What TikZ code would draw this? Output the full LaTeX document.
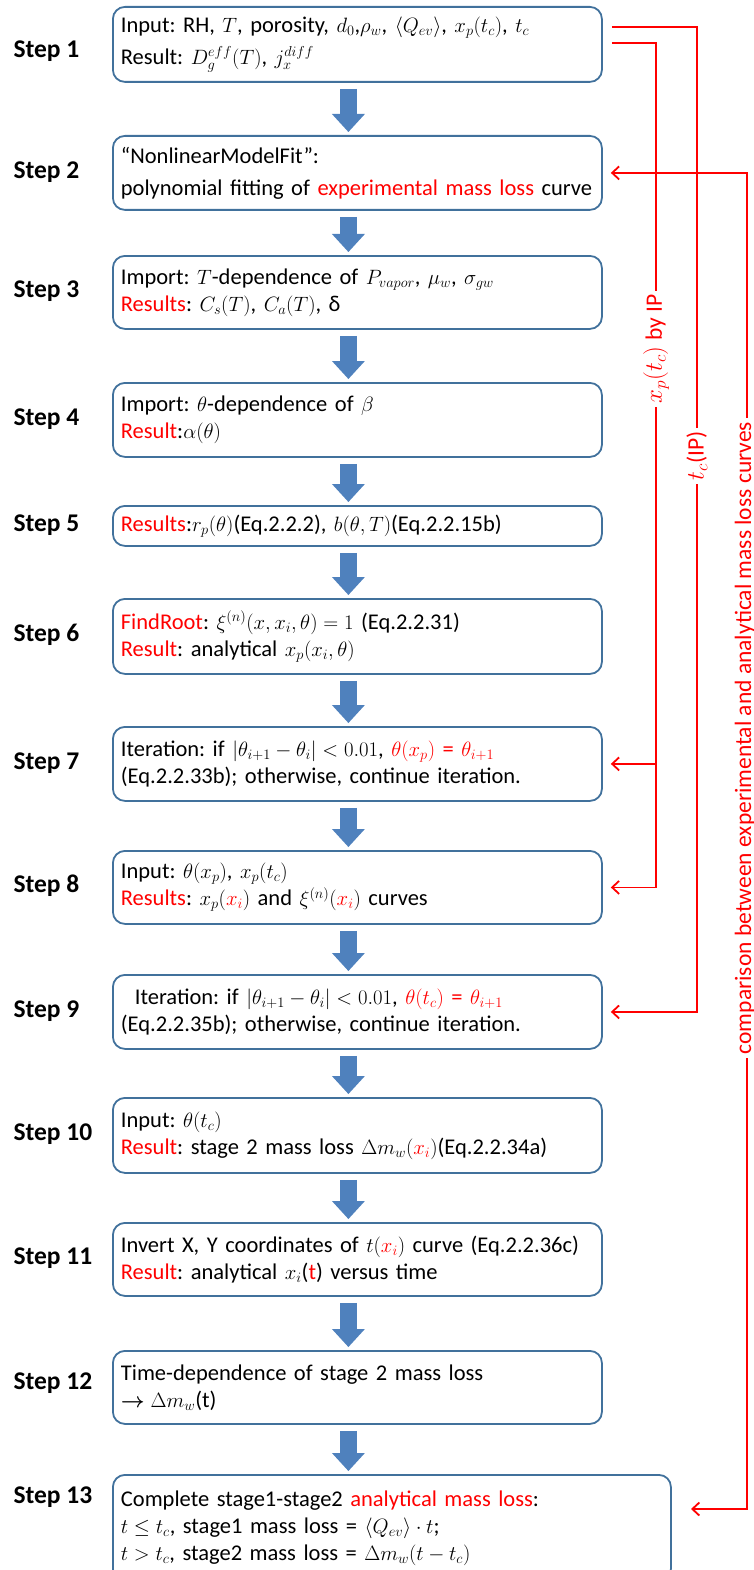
\documentclass[tikz,border=0pt]{standalone}
\usepackage{amsmath}
\usepackage{amssymb}
\usepackage{fontspec}
\setmainfont{Carlito}
\usepackage{tikz}
\usetikzlibrary{arrows.meta}

\definecolor{boxline}{RGB}{65,113,156}
\definecolor{flowfill}{RGB}{79,129,189}
\newcommand{\hot}[1]{\textcolor{red}{#1}}
\frenchspacing

\begin{document}
\begin{tikzpicture}[x=1pt, y=-1pt,
    box/.style={draw=boxline, line width=1.8pt, rounded corners=12pt, anchor=north west,
        minimum width=489pt, text width=473pt, inner xsep=8pt, align=left,
        font=\fontsize{22.5}{27}\selectfont},
    steplbl/.style={anchor=west, font=\fontsize{25.5}{30}\selectfont\bfseries},
    flow/.style={draw=flowfill, line width=17pt, shorten <=6pt, shorten >=3pt,
        -{Triangle[length=18pt,width=33pt,line width=0pt,fill=flowfill]}},
    fb/.style={red, line width=1.8pt},
    lbl/.style={red, fill=white, rotate=90, inner sep=4pt, font=\fontsize{23.5}{28}\selectfont},
    >={Straight Barb[length=7pt,width=13pt]}]
\useasboundingbox (0,0) rectangle (754,1570);

% steps
\node[box, minimum height=75pt] (s1) at (112,6)
    {Input: RH, $T$, porosity, $d_0$,$\rho_w$, $\langle Q_{ev}\rangle$, $x_p(t_c)$, $t_c$\\[5pt]
     Result: $D_g^{eff}(T)$, $j_x^{diff}$};
\node[box, minimum height=74pt] (s2) at (112,135)
    {``NonlinearModelFit'':\\[5pt]
     polynomial fitting of \hot{experimental mass loss} curve};
\node[box, minimum height=73pt] (s3) at (112,255)
    {Import: $T$-dependence of $P_{vapor}$, $\mu_w$, $\sigma_{gw}$\\
     \hot{Results}: $C_s(T)$, $C_a(T)$, δ};
\node[box, minimum height=74pt] (s4) at (112,382)
    {Import: $\theta$-dependence of $\beta$\\
     \hot{Result}:$\alpha(\theta)$};
\node[box, minimum height=40pt] (s5) at (112,505)
    {\hot{Results}:$r_p(\theta)$(Eq.2.2.2), $b(\theta,T)$(Eq.2.2.15b)};
\node[box, minimum height=75pt] (s6) at (112,598)
    {\hot{FindRoot}: $\xi^{(n)}(x,x_i,\theta)=1$ (Eq.2.2.31)\\
     \hot{Result}: analytical $x_p(x_i,\theta)$};
\node[box, minimum height=74pt] (s7) at (112,726)
    {Iteration: if $|\theta_{i+1}-\theta_i|<0.01$, \hot{$\theta(x_p)$ = $\theta_{i+1}$}\\
     (Eq.2.2.33b); otherwise, continue iteration.};
\node[box, minimum height=73pt] (s8) at (112,850)
    {Input: $\theta(x_p)$, $x_p(t_c)$\\
     \hot{Results}: $x_p(\hot{x_i})$ and $\xi^{(n)}(\hot{x_i})$ curves};
\node[box, minimum height=74pt] (s9) at (112,974)
    {\hspace*{14pt}Iteration: if $|\theta_{i+1}-\theta_i|<0.01$, \hot{$\theta(t_c)$ = $\theta_{i+1}$}\\
     (Eq.2.2.35b); otherwise, continue iteration.};
\node[box, minimum height=75pt] (s10) at (112,1097)
    {Input: $\theta(t_c)$\\
     \hot{Result}: stage 2 mass loss $\Delta m_w(\hot{x_i})$(Eq.2.2.34a)};
\node[box, minimum height=73pt] (s11) at (112,1222)
    {Invert X, Y coordinates of $t(\hot{x_i})$ curve (Eq.2.2.36c)\\
     \hot{Result}: analytical $x_i$(\hot{t}) versus time};
\node[box, minimum height=73pt] (s12) at (112,1350)
    {Time-dependence of stage 2 mass loss\\
     $\boldsymbol{\rightarrow}\Delta m_w$(t)};
\node[box, minimum height=106pt, minimum width=558pt, text width=542pt] (s13) at (112,1474)
    {Complete stage1-stage2 \hot{analytical mass loss}:\\
     $t\le t_c$, stage1 mass loss = $\langle Q_{ev}\rangle\cdot t$;\\
     $t>t_c$, stage2 mass loss = $\Delta m_w(t-t_c)$};

% step labels
\node[steplbl] (l1) at (10,51) {Step 1};
\node[steplbl] (l2) at (10,172) {Step 2};
\node[steplbl] (l3) at (10,291) {Step 3};
\node[steplbl] (l4) at (10,419) {Step 4};
\node[steplbl] (l5) at (10,525) {Step 5};
\node[steplbl] (l6) at (10,635) {Step 6};
\node[steplbl] (l7) at (10,763) {Step 7};
\node[steplbl] (l8) at (10,886) {Step 8};
\node[steplbl] (l9) at (10,1011) {Step 9};
\node[steplbl] (l10) at (10,1134) {Step 10};
\node[steplbl] (l11) at (10,1258) {Step 11};
\node[steplbl] (l12) at (10,1383) {Step 12};
\node[steplbl] (l13) at (10,1497) {Step 13};

% block arrows
\draw[flow] ([xshift=-9pt]s1.south) -- ([xshift=-9pt]s2.north);
\draw[flow] ([xshift=-9pt]s2.south) -- ([xshift=-9pt]s3.north);
\draw[flow] ([xshift=-9pt]s3.south) -- ([xshift=-9pt]s4.north);
\draw[flow] ([xshift=-9pt]s4.south) -- ([xshift=-9pt]s5.north);
\draw[flow] ([xshift=-9pt]s5.south) -- ([xshift=-9pt]s6.north);
\draw[flow] ([xshift=-9pt]s6.south) -- ([xshift=-9pt]s7.north);
\draw[flow] ([xshift=-9pt]s7.south) -- ([xshift=-9pt]s8.north);
\draw[flow] ([xshift=-9pt]s8.south) -- ([xshift=-9pt]s9.north);
\draw[flow] ([xshift=-9pt]s9.south) -- ([xshift=-9pt]s10.north);
\draw[flow] ([xshift=-9pt]s10.south) -- ([xshift=-9pt]s11.north);
\draw[flow] ([xshift=-9pt]s11.south) -- ([xshift=-9pt]s12.north);
\draw[flow] ([xshift=-9pt]s12.south) -- ([xshift=-9pt]s12.south |- s13.north);

% feedback lines
\coordinate (cB) at (656,0);
\coordinate (cA) at (697,0);
\coordinate (cC) at (747,0);
\coordinate (e13) at (691,1509);
\draw[fb, ->] ([xshift=9pt,yshift=17pt]s1.east) -| (cA |- s9.east) -- ([xshift=8pt]s9.east);
\draw[fb, ->] ([xshift=9pt,yshift=1.5pt]s1.east) -| (cB |- s8.east) -- ([xshift=8pt]s8.east);
\draw[fb, ->] (cB |- s7.east) -- ([xshift=8pt]s7.east);
\draw[fb, <->] ([xshift=8pt]s2.east) -- (cC |- s2.east) -- (cC |- e13) -- (e13);

\node[lbl] (lxp) at (656,349) {$x_p(t_c)$ by IP};
\node[lbl] (ltc) at (697,456) {$t_c$(IP)};
\node[lbl, anchor=base] (lcmp) at (751,738) {comparison between experimental and analytical mass loss curves};
\end{tikzpicture}
\end{document}
